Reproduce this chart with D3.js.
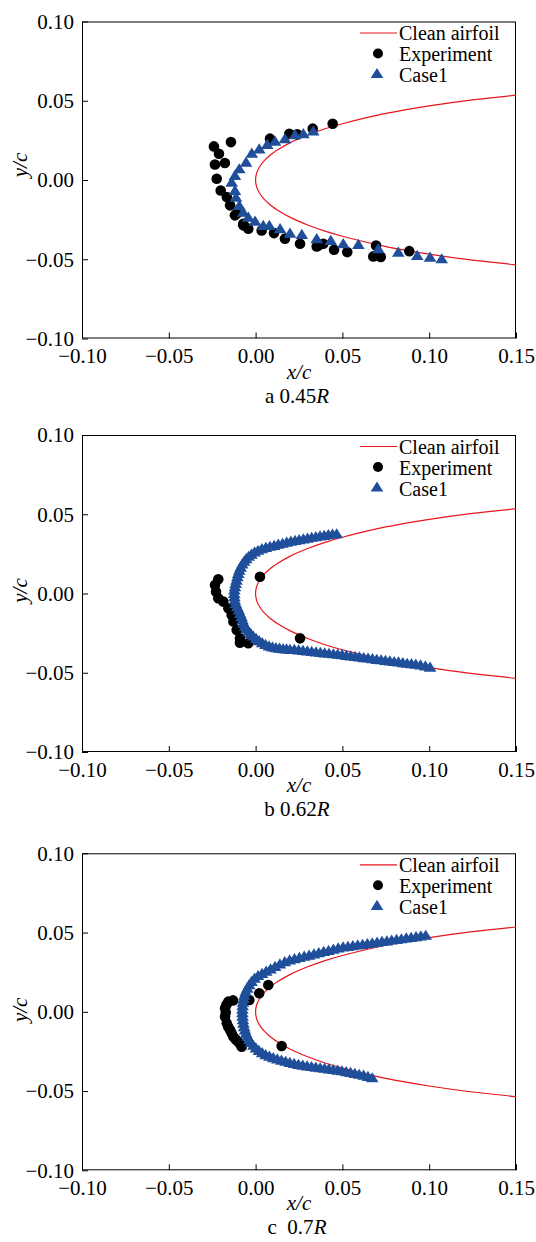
<!DOCTYPE html>
<html><head><meta charset="utf-8">
<script src="https://cdn.jsdelivr.net/npm/d3@7"></script>
<style>
body{margin:0;background:#fff}
svg{display:block}
text{font-family:"Liberation Serif","Times New Roman",serif;fill:#000}
</style>
</head><body><svg id="c" width="536" height="1242"></svg>
<script>
// ---------- data ----------
const xTicks = [-0.10, -0.05, 0.00, 0.05, 0.10, 0.15];
const yTicks = [-0.10, -0.05, 0.00, 0.05, 0.10];
const legendLabels = ["Clean airfoil", "Experiment", "Case1"];
const captionText = ["a 0.45", "b 0.62", "c\u00a0\u00a00.7"];

// clean airfoil (upper surface; lower surface is its mirror)
const foilX = [0, 0.0001, 0.0004, 0.001, 0.0025, 0.005, 0.0075, 0.01, 0.0125, 0.02, 0.03, 0.04, 0.05, 0.075, 0.1, 0.125, 0.15];
const foilY = [0, 0.0018, 0.0035, 0.0056, 0.0087, 0.0122, 0.0148, 0.0170, 0.0189, 0.0236, 0.0284, 0.0323, 0.0355, 0.0420, 0.0468, 0.0506, 0.0535];

// panel a: 0.45R
const exp045 = [[0.0444,0.0355],[0.0329,0.0324],[0.0240,0.0288],[0.0194,0.0292],[0.0083,0.0261],[-0.0142,0.0239],[-0.0240,0.0212],[-0.0211,0.0166],[-0.0234,0.0098],[-0.0177,0.0107],[-0.0224,0.0008],[-0.0201,-0.0066],[-0.0166,-0.0108],[-0.0147,-0.0160],[-0.0119,-0.0223],[-0.0109,-0.0213],[-0.0071,-0.0276],[-0.0071,-0.0286],[-0.0042,-0.0307],[0.0035,-0.0318],[0.0106,-0.0335],[0.0169,-0.0370],[0.0256,-0.0402],[0.0352,-0.0419],[0.0361,-0.0413],[0.0390,-0.0402],[0.0452,-0.0440],[0.0528,-0.0455],[0.0694,-0.0413],[0.0678,-0.0482],[0.0721,-0.0486],[0.0885,-0.0449]];
const case045 = [[0.0332,0.0309],[0.0275,0.0292],[0.0227,0.0286],[0.0169,0.0261],[0.0112,0.0245],[0.0067,0.0225],[0.0021,0.0197],[-0.0022,0.0170],[-0.0055,0.0113],[-0.0094,0.0071],[-0.0119,0.0029],[-0.0138,-0.0013],[-0.0119,-0.0066],[-0.0113,-0.0108],[-0.0094,-0.0160],[-0.0071,-0.0203],[-0.0042,-0.0234],[-0.0003,-0.0259],[0.0044,-0.0286],[0.0079,-0.0286],[0.0141,-0.0307],[0.0198,-0.0335],[0.0266,-0.0343],[0.0352,-0.0370],[0.0433,-0.0381],[0.0505,-0.0402],[0.0592,-0.0406],[0.0707,-0.0433],[0.0822,-0.0455],[0.0931,-0.0476],[0.1005,-0.0486],[0.1072,-0.0497]];

// panel b: 0.62R
const exp062 = [[-0.0215,0.0090],[-0.0234,0.0054],[-0.0228,0.0011],[-0.0215,-0.0030],[-0.0186,-0.0051],[-0.0157,-0.0093],[-0.0138,-0.0135],[-0.0128,-0.0177],[-0.0109,-0.0230],[-0.0090,-0.0283],[-0.0090,-0.0310],[-0.0042,-0.0314],[0.0025,0.0106],[0.0256,-0.0283]];
const case062 = [[0.0467,0.0377],[0.0443,0.0374],[0.0419,0.0371],[0.0395,0.0367],[0.0371,0.0363],[0.0347,0.0359],[0.0323,0.0355],[0.0299,0.0350],[0.0275,0.0345],[0.0251,0.0340],[0.0227,0.0335],[0.0203,0.0330],[0.0179,0.0324],[0.0155,0.0317],[0.0131,0.0311],[0.0107,0.0304],[0.0083,0.0298],[0.0059,0.0291],[0.0036,0.0283],[0.0014,0.0273],[-0.0006,0.0262],[-0.0024,0.0249],[-0.0040,0.0235],[-0.0054,0.0220],[-0.0066,0.0204],[-0.0077,0.0186],[-0.0086,0.0167],[-0.0094,0.0147],[-0.0100,0.0127],[-0.0105,0.0106],[-0.0110,0.0085],[-0.0115,0.0064],[-0.0119,0.0043],[-0.0122,0.0022],[-0.0123,0.0001],[-0.0122,-0.0020],[-0.0120,-0.0041],[-0.0114,-0.0062],[-0.0106,-0.0083],[-0.0097,-0.0104],[-0.0089,-0.0125],[-0.0081,-0.0146],[-0.0075,-0.0167],[-0.0069,-0.0187],[-0.0061,-0.0206],[-0.0051,-0.0223],[-0.0040,-0.0238],[-0.0028,-0.0252],[-0.0013,-0.0268],[0.0003,-0.0283],[0.0020,-0.0297],[0.0038,-0.0310],[0.0057,-0.0321],[0.0077,-0.0331],[0.0097,-0.0337],[0.0117,-0.0342],[0.0138,-0.0345],[0.0158,-0.0348],[0.0178,-0.0350],[0.0198,-0.0352],[0.0223,-0.0353],[0.0248,-0.0356],[0.0273,-0.0359],[0.0298,-0.0362],[0.0323,-0.0365],[0.0348,-0.0368],[0.0373,-0.0371],[0.0398,-0.0374],[0.0423,-0.0377],[0.0448,-0.0380],[0.0473,-0.0383],[0.0498,-0.0386],[0.0523,-0.0390],[0.0548,-0.0393],[0.0573,-0.0397],[0.0598,-0.0400],[0.0623,-0.0404],[0.0648,-0.0407],[0.0673,-0.0411],[0.0698,-0.0415],[0.0723,-0.0418],[0.0748,-0.0422],[0.0773,-0.0425],[0.0798,-0.0429],[0.0823,-0.0432],[0.0848,-0.0436],[0.0873,-0.0440],[0.0898,-0.0443],[0.0923,-0.0446],[0.0950,-0.0450],[0.0978,-0.0457],[0.1005,-0.0464]];

// panel c: 0.7R
const exp070 = [[0.0073,0.0169],[0.0021,0.0117],[-0.0036,0.0074],[-0.0130,0.0072],[-0.0157,0.0064],[-0.0168,0.0045],[-0.0176,0.0022],[-0.0172,-0.0005],[-0.0176,-0.0031],[-0.0166,-0.0073],[-0.0158,-0.0095],[-0.0147,-0.0115],[-0.0138,-0.0136],[-0.0128,-0.0157],[-0.0114,-0.0175],[-0.0100,-0.0189],[-0.0088,-0.0205],[-0.0080,-0.0220],[0.0150,-0.0216]];
const case070 = [[0.0980,0.0483],[0.0952,0.0479],[0.0924,0.0474],[0.0896,0.0470],[0.0868,0.0466],[0.0840,0.0461],[0.0812,0.0457],[0.0784,0.0453],[0.0756,0.0448],[0.0728,0.0444],[0.0700,0.0440],[0.0672,0.0435],[0.0644,0.0431],[0.0616,0.0426],[0.0588,0.0422],[0.0560,0.0418],[0.0532,0.0413],[0.0504,0.0409],[0.0476,0.0403],[0.0448,0.0396],[0.0420,0.0388],[0.0392,0.0381],[0.0364,0.0373],[0.0336,0.0366],[0.0308,0.0358],[0.0280,0.0351],[0.0252,0.0343],[0.0224,0.0336],[0.0196,0.0327],[0.0168,0.0316],[0.0140,0.0302],[0.0112,0.0286],[0.0086,0.0271],[0.0061,0.0256],[0.0037,0.0242],[0.0014,0.0229],[-0.0006,0.0212],[-0.0023,0.0192],[-0.0037,0.0171],[-0.0048,0.0149],[-0.0057,0.0127],[-0.0064,0.0105],[-0.0069,0.0083],[-0.0073,0.0061],[-0.0075,0.0039],[-0.0076,0.0017],[-0.0076,-0.0005],[-0.0075,-0.0027],[-0.0073,-0.0049],[-0.0070,-0.0071],[-0.0066,-0.0093],[-0.0061,-0.0114],[-0.0055,-0.0134],[-0.0047,-0.0154],[-0.0037,-0.0174],[-0.0026,-0.0193],[-0.0013,-0.0211],[0.0002,-0.0228],[0.0019,-0.0244],[0.0038,-0.0258],[0.0058,-0.0270],[0.0080,-0.0280],[0.0102,-0.0289],[0.0125,-0.0297],[0.0149,-0.0305],[0.0173,-0.0312],[0.0197,-0.0319],[0.0222,-0.0326],[0.0247,-0.0332],[0.0272,-0.0337],[0.0297,-0.0341],[0.0322,-0.0345],[0.0347,-0.0349],[0.0372,-0.0353],[0.0397,-0.0356],[0.0422,-0.0360],[0.0447,-0.0364],[0.0472,-0.0368],[0.0497,-0.0372],[0.0522,-0.0377],[0.0547,-0.0382],[0.0572,-0.0388],[0.0597,-0.0394],[0.0622,-0.0400],[0.0647,-0.0408],[0.0672,-0.0416]];

// ---------- drawing ----------
const svg = d3.select("#c");
const L = 82, R = 516, H = 317;
const panelTops = [21.5, 435, 853.3];
const yLabelOffset = [-15, -3, -2];
const expSets = [exp045, exp062, exp070];
const caseSets = [case045, case062, case070];
const RED = "#e8141b", BLUE = "#1f4e9a";
const FS = 21, LFS = 20;
const SERIF = '"Liberation Serif","Times New Roman",serif';
const triPath = "M0,-5.6L6.3,4.6L-6.3,4.6Z";

panelTops.forEach((top, i) => {
  const bottom = top + H;
  const x = d3.scaleLinear().domain([-0.1, 0.15]).range([L, R]);
  const y = d3.scaleLinear().domain([-0.1, 0.1]).range([bottom, top]);
  const g = svg.append("g");

  // axes
  const fmt = d3.format(".2f");
  const xa = g.append("g").attr("transform", `translate(0,${bottom})`)
    .call(d3.axisBottom(x).tickValues(xTicks).tickFormat(fmt).tickSizeInner(-6).tickSizeOuter(0));
  xa.select(".domain").remove();
  xa.selectAll("line").attr("stroke", "#000");
  xa.selectAll("text").attr("dy", null).attr("y", 24.5).style("font-size", FS + "px")
    .style("font-family", SERIF).attr("fill", "#000");

  const ya = g.append("g").attr("transform", `translate(${L},0)`)
    .call(d3.axisLeft(y).tickValues(yTicks).tickFormat(fmt).tickSizeInner(-6).tickSizeOuter(0));
  ya.select(".domain").remove();
  ya.selectAll("line").attr("stroke", "#000");
  ya.selectAll("text").attr("x", -8).attr("dy", "0.33em").style("font-size", FS + "px")
    .style("font-family", SERIF).attr("fill", "#000");

  // frame
  g.append("rect").attr("x", L + 0.5).attr("y", top + 0.5).attr("width", R - L - 1).attr("height", H - 1)
    .attr("fill", "none").attr("stroke", "#000").attr("stroke-width", 1);

  // clean airfoil
  const upper = foilX.map((v, k) => [v, foilY[k]]);
  const lower = foilX.map((v, k) => [v, -foilY[k]]);
  const pts = upper.slice().reverse().concat(lower.slice(1));
  const line = d3.line().x(d => x(d[0])).y(d => y(d[1])).curve(d3.curveCatmullRom);
  g.append("path").attr("d", line(pts)).attr("fill", "none").attr("stroke", RED).attr("stroke-width", 1.2);

  // experiment
  g.selectAll(".exp").data(expSets[i]).enter().append("circle")
    .attr("cx", d => x(d[0])).attr("cy", d => y(d[1])).attr("r", 5.3).attr("fill", "#000");

  // case1
  g.selectAll(".cas").data(caseSets[i]).enter().append("path")
    .attr("d", triPath).attr("transform", d => `translate(${x(d[0])},${y(d[1])})`).attr("fill", BLUE);

  // axis titles
  g.append("text").attr("x", (L + R) / 2).attr("y", bottom + 40).attr("text-anchor", "middle")
    .style("font-size", FS + "px").style("font-style", "italic").text("x/c");
  const cap = g.append("text").attr("x", (L + R) / 2 - 2).attr("y", bottom + 64).attr("text-anchor", "middle")
    .style("font-size", FS + "px");
  cap.append("tspan").text(captionText[i]);
  cap.append("tspan").style("font-style", "italic").text("R");

  const yc = (top + bottom) / 2 + yLabelOffset[i];
  g.append("text").attr("transform", `translate(27,${yc}) rotate(-90)`).attr("text-anchor", "middle")
    .style("font-size", FS + "px").style("font-style", "italic").text("y/c");

  // legend
  const lx = R - 117;
  g.append("line").attr("x1", R - 156).attr("x2", R - 119).attr("y1", top + 11.5).attr("y2", top + 11.5)
    .attr("stroke", RED).attr("stroke-width", 1.2);
  g.append("circle").attr("cx", R - 138).attr("cy", top + 32).attr("r", 5).attr("fill", "#000");
  g.append("path").attr("d", triPath).attr("transform", `translate(${R - 139},${top + 52})`).attr("fill", BLUE);
  legendLabels.forEach((t, k) => {
    g.append("text").attr("x", lx).attr("y", top + 18.5 + k * 21).style("font-size", LFS + "px").text(t);
  });
});
</script>
</body></html>
